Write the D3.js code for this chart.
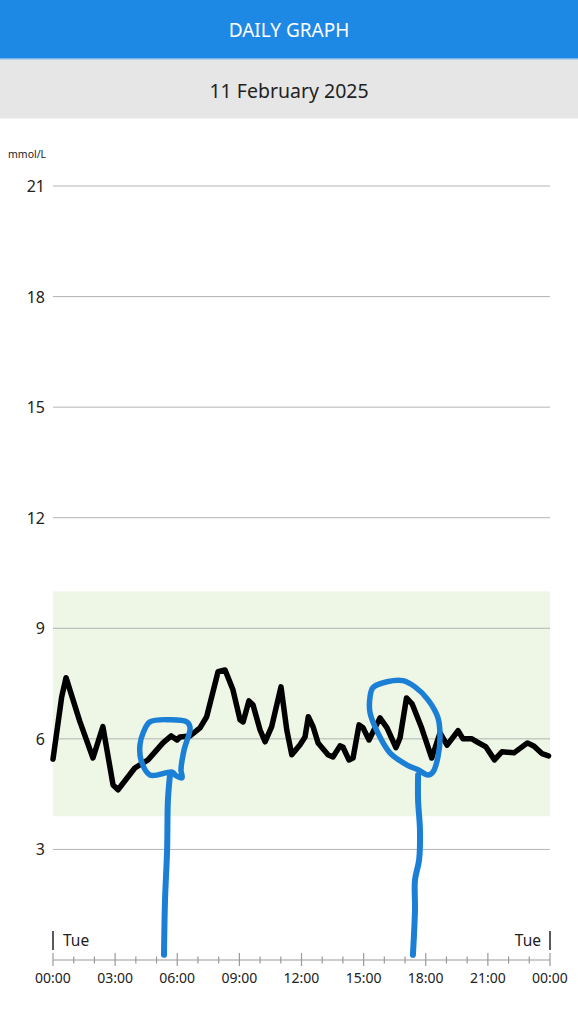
<!DOCTYPE html>
<html>
<head>
<meta charset="utf-8">
<script src="https://cdn.jsdelivr.net/npm/d3@7"></script>
<style>
  html, body { margin: 0; padding: 0; background: #fff; }
  svg { display: block; font-family: "Noto Sans", "Open Sans", sans-serif; }
</style>
</head>
<body>
<svg id="chart" width="578" height="1023"></svg>
<script>
// ---------- DATA ----------
const title = "DAILY GRAPH";
const dateLabel = "11 February 2025";
const unitLabel = "mmol/L";
const dayLabel = "Tue";
const yTicks = [3, 6, 9, 12, 15, 18, 21];
const xTickLabels = ["00:00", "03:00", "06:00", "09:00", "12:00", "15:00", "18:00", "21:00", "00:00"];
const targetRange = [3.9, 10];

// glucose readings: time (hours since midnight) and value (mmol/L)
const times = [0.00, 0.42, 0.63, 1.29, 1.93, 2.41, 2.90, 3.14, 3.95, 4.59, 5.31, 5.71, 5.99, 6.13, 6.62, 7.10, 7.42,
  7.97, 8.31, 8.69, 9.03, 9.18, 9.46, 9.66, 10.00, 10.24, 10.56, 11.01, 11.29, 11.53, 11.93, 12.17, 12.33,
  12.56, 12.80, 13.28, 13.52, 13.86, 14.00, 14.29, 14.49, 14.78, 14.97, 15.26, 15.79, 16.13, 16.56, 16.76,
  17.07, 17.34, 17.80, 18.29, 18.69, 19.03, 19.56, 19.80, 20.23, 20.47, 20.91, 21.32, 21.68, 22.26, 22.91,
  23.23, 23.61, 23.93];
const glucose = [5.45, 7.14, 7.66, 6.48, 5.48, 6.33, 4.75, 4.62, 5.21, 5.43, 5.89, 6.08, 5.97, 6.05, 6.08, 6.30, 6.60,
  7.82, 7.87, 7.33, 6.52, 6.46, 7.03, 6.92, 6.24, 5.92, 6.33, 7.41, 6.24, 5.57, 5.84, 6.05, 6.60,
  6.33, 5.89, 5.57, 5.51, 5.81, 5.78, 5.43, 5.48, 6.38, 6.30, 5.97, 6.57, 6.30, 5.76, 6.03,
  7.11, 6.95, 6.30, 5.48, 6.16, 5.83, 6.22, 6.00, 6.00, 5.92, 5.78, 5.43, 5.65, 5.62, 5.89,
  5.80, 5.60, 5.54];

// hand-drawn blue annotations, in data units [hour, mmol/L]
const loopA = [[4.35, 6.16], [4.68, 6.46], [5.65, 6.52], [6.47, 6.46], [6.62, 6.30], [6.33, 5.70], [6.18, 5.16],
  [6.23, 4.94], [5.94, 5.00], [5.75, 5.10], [4.68, 5.02], [4.25, 5.43], [4.20, 5.84]];
const stemA = [[5.65, 5.02], [5.55, 4.34], [5.51, 2.99], [5.41, 1.63], [5.36, 0.14]];
const loopB = [[15.45, 7.39], [16.13, 7.55], [16.90, 7.58], [17.48, 7.41], [18.11, 7.06], [18.59, 6.57], [18.69, 6.05],
  [18.59, 5.51], [18.35, 5.10], [18.11, 5.02], [17.63, 5.16], [17.10, 5.29], [16.27, 5.62], [15.69, 6.16],
  [15.31, 6.71], [15.31, 7.14]];
const stemB = [[17.63, 5.02], [17.63, 4.34], [17.72, 3.53], [17.68, 2.72], [17.48, 2.17], [17.48, 1.36], [17.38, 0.14]];

// ---------- LAYOUT ----------
const W = 578, H = 1023;
const plot = { left: 53, right: 550, top: 186, bottom: 960 };
const svg = d3.select("#chart");

const x = d3.scaleLinear().domain([0, 24]).range([plot.left, plot.right]);
const y = d3.scaleLinear().domain([0, 21]).range([plot.bottom, plot.top]);

// header
svg.append("rect").attr("x", 0).attr("y", 0).attr("width", W).attr("height", 59).attr("fill", "#1e88e5");
svg.append("rect").attr("x", 0).attr("y", 59).attr("width", W).attr("height", 59.5).attr("fill", "#e6e6e6");
svg.append("rect").attr("x", 0).attr("y", 58).attr("width", W).attr("height", 1.5).attr("fill", "#7fb8ec");
svg.append("text").attr("x", W / 2).attr("y", 30).attr("text-anchor", "middle").attr("dominant-baseline", "central")
  .attr("fill", "#ffffff").attr("font-size", 19).text(title);
svg.append("text").attr("x", W / 2).attr("y", 90).attr("text-anchor", "middle").attr("dominant-baseline", "central")
  .attr("fill", "#222").attr("font-size", 19.5).text(dateLabel);

// target band
svg.append("rect")
  .attr("x", x(0)).attr("width", x(24) - x(0))
  .attr("y", y(targetRange[1])).attr("height", y(targetRange[0]) - y(targetRange[1]))
  .attr("fill", "#eef6e6");

// gridlines + y labels
const yAxis = svg.append("g");
yTicks.forEach(t => {
  yAxis.append("line").attr("x1", x(0)).attr("x2", x(24)).attr("y1", y(t)).attr("y2", y(t))
    .attr("stroke", "#b4b4b4").attr("stroke-width", 1);
  yAxis.append("text").attr("x", 45).attr("y", y(t)).attr("text-anchor", "end").attr("dominant-baseline", "central")
    .attr("fill", "#222").attr("font-size", 16).text(t);
});
svg.append("text").attr("x", 8).attr("y", 154).attr("dominant-baseline", "central")
  .attr("fill", "#222").attr("font-size", 10.5).text(unitLabel);

// x axis
const xg = svg.append("g");
xg.append("line").attr("x1", x(0)).attr("x2", x(24)).attr("y1", y(0)).attr("y2", y(0))
  .attr("stroke", "#9a9a9a").attr("stroke-width", 1.2);
d3.range(0, 25).forEach(h => {
  const major = h % 3 === 0;
  xg.append("line").attr("x1", x(h)).attr("x2", x(h))
    .attr("y1", y(0) - (major ? 7 : 3.5)).attr("y2", y(0) + (major ? 6 : 3.5))
    .attr("stroke", "#9a9a9a").attr("stroke-width", 1.2);
});
xTickLabels.forEach((lab, i) => {
  xg.append("text").attr("x", x(i * 3)).attr("y", 977).attr("text-anchor", "middle").attr("dominant-baseline", "central")
    .attr("fill", "#222").attr("font-size", 14).text(lab);
});

// day markers
svg.append("line").attr("x1", x(0)).attr("x2", x(0)).attr("y1", 931).attr("y2", 950).attr("stroke", "#222").attr("stroke-width", 1.5);
svg.append("text").attr("x", x(0) + 10).attr("y", 940).attr("dominant-baseline", "central")
  .attr("fill", "#222").attr("font-size", 15.5).text(dayLabel);
svg.append("line").attr("x1", x(24)).attr("x2", x(24)).attr("y1", 931).attr("y2", 950).attr("stroke", "#222").attr("stroke-width", 1.5);
svg.append("text").attr("x", x(24) - 9).attr("y", 940).attr("text-anchor", "end").attr("dominant-baseline", "central")
  .attr("fill", "#222").attr("font-size", 15.5).text(dayLabel);

// glucose line
const pts = times.map((t, i) => [t, glucose[i]]);
const line = d3.line().x(d => x(d[0])).y(d => y(d[1]));
svg.append("path").datum(pts).attr("d", line)
  .attr("fill", "none").attr("stroke", "#000").attr("stroke-width", 5.5)
  .attr("stroke-linejoin", "round").attr("stroke-linecap", "round");

// annotations
const blue = "#1b7fd6";
const closedCurve = d3.line().x(d => x(d[0])).y(d => y(d[1])).curve(d3.curveCatmullRomClosed);
const openCurve = d3.line().x(d => x(d[0])).y(d => y(d[1])).curve(d3.curveCatmullRom);
[loopA, loopB].forEach(l => {
  svg.append("path").datum(l).attr("d", closedCurve).attr("fill", "none")
    .attr("stroke", blue).attr("stroke-width", 5.5).attr("stroke-linejoin", "round");
});
[stemA, stemB].forEach(s => {
  svg.append("path").datum(s).attr("d", openCurve).attr("fill", "none")
    .attr("stroke", blue).attr("stroke-width", 6).attr("stroke-linecap", "round");
});
</script>
</body>
</html>
